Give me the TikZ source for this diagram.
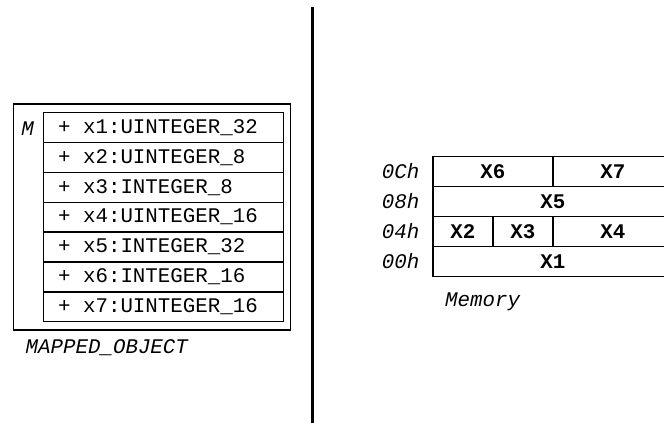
\documentclass[tikz,border=0pt]{standalone}
\usepackage{fontspec}
\setmainfont{Liberation Mono}
\newcommand{\msp}{\hspace*{0.6em}}
\begin{document}
\begin{tikzpicture}[x=1pt,y=-1pt,
  every node/.style={font=\fontsize{20.8}{24}\selectfont},
  rowbox/.style={draw, line width=1.2pt, anchor=north west, minimum height=30pt,
    inner xsep=15pt, inner ysep=0pt, text width=210pt, align=left},
  cell/.style={draw, line width=1.2pt, anchor=north west, minimum height=30pt, inner sep=0pt,
    font=\fontsize{20.8}{24}\selectfont\bfseries},
  lbl/.style={inner sep=0pt, font=\fontsize{20.8}{24}\selectfont\itshape}]
\useasboundingbox (0,0) rectangle (664,423);
% divider
\coordinate (dtop) at (312.7,7);
\coordinate (dbot) at (312.7,423);
\draw[line width=2.8pt] (dtop) -- (dbot);
% left object
\node[draw, line width=1.2pt, anchor=north west, minimum width=277.5pt, minimum height=226pt, inner sep=0pt] (obj) at (12.5,103.3) {};
\node[rowbox] (r1) at (42.5,111.8) {+\msp x1:UINTEGER\_32};
\node[rowbox] (r2) at (42.5,141.7) {+\msp x2:UINTEGER\_8};
\node[rowbox] (r3) at (42.5,171.6) {+\msp x3:INTEGER\_8};
\node[rowbox] (r4) at (42.5,201.5) {+\msp x4:UINTEGER\_16};
\node[rowbox] (r5) at (42.5,231.4) {+\msp x5:INTEGER\_32};
\node[rowbox] (r6) at (42.5,261.3) {+\msp x6:INTEGER\_16};
\node[rowbox] (r7) at (42.5,291.2) {+\msp x7:UINTEGER\_16};
\node[lbl] (m) at (27.5,128.5) {M};
\node[lbl, anchor=west] (mo) at (25.5,348) {MAPPED\_OBJECT};
% memory
\node[cell, minimum width=120pt] (x6) at (432.3,156) {X6};
\node[cell, minimum width=120pt] (x7) at (552.3,156) {X7};
\node[cell, minimum width=240pt] (x5) at (432.3,186) {X5};
\node[cell, minimum width=60pt] (x2) at (432.3,216) {X2};
\node[cell, minimum width=60pt] (x3) at (492.3,216) {X3};
\node[cell, minimum width=120pt] (x4) at (552.3,216) {X4};
\node[cell, minimum width=240pt] (x1) at (432.3,246) {X1};
\node[lbl, anchor=east] (a0c) at (419.5,171.5) {0Ch};
\node[lbl, anchor=east] (a08) at (419.5,201.5) {08h};
\node[lbl, anchor=east] (a04) at (419.5,231.5) {04h};
\node[lbl, anchor=east] (a00) at (419.5,261.5) {00h};
\node[lbl, anchor=west] (mem) at (445,302) {Memory};
\end{tikzpicture}
\end{document}
